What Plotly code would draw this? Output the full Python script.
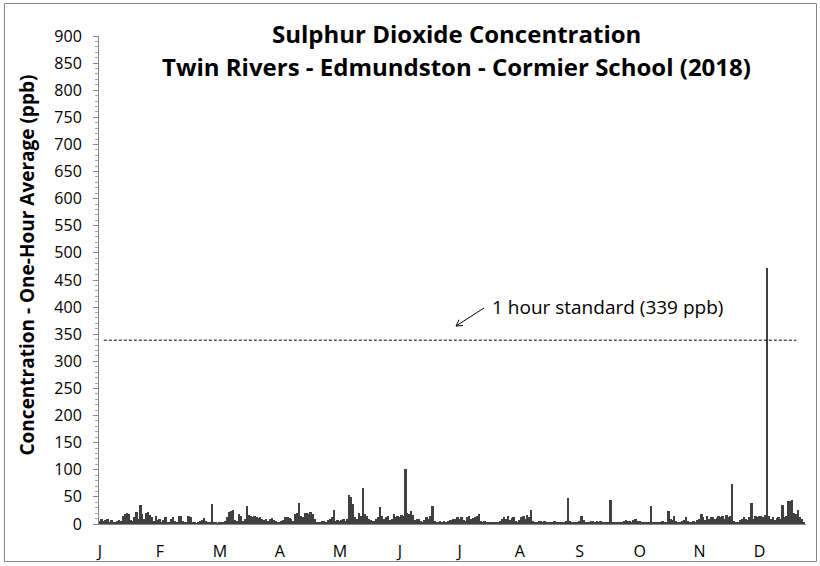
import plotly.graph_objects as go

# Daily peak one-hour SO2 concentration (ppb)
jan = [6, 9, 5, 8, 10, 4, 7, 3, 2, 5, 8, 6, 15, 18, 20, 19, 8, 6, 12, 22, 10, 35, 18, 9, 20, 23, 16, 12, 5, 14, 8]
feb = [10, 4, 7, 12, 3, 2, 9, 13, 5, 3, 15, 14, 6, 2, 3, 15, 13, 4, 2, 1, 3, 5, 8, 11, 6, 2, 3, 37, 4, 2, 1]
mar = [2, 3, 4, 5, 12, 22, 24, 26, 8, 5, 18, 14, 6, 10, 33, 17, 14, 12, 15, 13, 11, 12, 9, 8, 10, 6, 9, 11, 7, 5, 3]
apr = [4, 6, 8, 12, 13, 11, 9, 6, 18, 20, 38, 14, 12, 20, 21, 19, 22, 18, 10, 4, 3, 2, 5, 6, 3, 8, 10, 12, 25, 6, 8]
may = [5, 8, 10, 6, 9, 54, 50, 36, 12, 10, 20, 14, 67, 18, 15, 10, 8, 5, 6, 9, 12, 32, 14, 10, 12, 15, 8, 10, 18, 12, 15]
jun = [12, 16, 14, 101, 20, 18, 24, 16, 8, 10, 9, 5, 3, 8, 12, 10, 14, 34, 6, 3, 4, 5, 4, 6, 3, 5, 7, 8, 10, 9, 12]
jul = [10, 12, 8, 6, 13, 14, 9, 11, 13, 14, 18, 6, 4, 5, 3, 2, 3, 2, 4, 3, 2, 5, 10, 12, 9, 14, 8, 11, 13, 6, 4]
aug = [8, 12, 14, 10, 16, 12, 26, 6, 4, 3, 5, 6, 4, 5, 3, 4, 2, 3, 5, 3, 4, 2, 3, 4, 5, 48, 6, 3, 4, 2, 3]
sep = [5, 14, 8, 3, 2, 4, 5, 6, 4, 5, 3, 6, 4, 2, 3, 2, 45, 3, 2, 4, 3, 2, 3, 5, 7, 6, 5, 4, 8, 10, 6]
oct_ = [5, 4, 3, 2, 3, 4, 34, 3, 2, 4, 3, 2, 5, 3, 4, 24, 10, 8, 15, 6, 4, 3, 5, 8, 13, 6, 4, 3, 5, 2, 8]
nov = [10, 18, 12, 8, 14, 10, 13, 12, 9, 11, 14, 12, 15, 10, 16, 12, 15, 74, 6, 4, 3, 8, 10, 12, 10, 8, 12, 39, 10, 14, 12]
dec = [15, 14, 12, 16, 472, 14, 10, 12, 8, 11, 13, 10, 35, 12, 14, 42, 43, 44, 20, 18, 25, 12, 10, 3]

so2_values = jan + feb + mar + apr + may + jun + jul + aug + sep + oct_ + nov + dec
day_index = list(range(len(so2_values)))

month_labels = ["J", "F", "M", "A", "M", "J", "J", "A", "S", "O", "N", "D"]
month_tick_days = [31 * i for i in range(len(month_labels))]

STANDARD = 339
y_ticks = list(range(0, 901, 50))

FONT = "Open Sans"
TXT = "#000000"

# layout geometry (pixels)
W, H = 820, 566
ML, MR, MT, MB = 99, 14, 36, 42
PW, PH = W - ML - MR, H - MT - MB


def px(x):
    return (x - ML) / PW


def py(y):
    return (H - MB - y) / PH


fig = go.Figure()
fig.add_trace(go.Bar(
    x=day_index, y=so2_values, width=1.0,
    marker=dict(color="#404040", line=dict(width=0)),
    hoverinfo="x+y", showlegend=False,
))

fig.add_shape(type="line", xref="x", yref="y", x0=2, x1=360, y0=STANDARD, y1=STANDARD,
              line=dict(color="#000000", width=1, dash="3px,2px"))

# outer chart border (four edges)
bx0, bx1, by0, by1 = 4.5, 816.5, 3.5, 561.5
for (xa, ya, xb, yb) in [(bx0, by0, bx1, by0), (bx1, by0, bx1, by1),
                         (bx1, by1, bx0, by1), (bx0, by1, bx0, by0)]:
    fig.add_shape(type="line", xref="paper", yref="paper",
                  x0=px(xa), y0=py(ya), x1=px(xb), y1=py(yb),
                  line=dict(color="#868686", width=1), layer="above")

fig.add_annotation(x=px(456), y=py(33.5), xref="paper", yref="paper",
                   text="<b>Sulphur Dioxide Concentration</b>", showarrow=False,
                   font=dict(family=FONT, size=24, color=TXT), xanchor="center", yanchor="middle")
fig.add_annotation(x=px(456), y=py(66.5), xref="paper", yref="paper",
                   text="<b>Twin Rivers - Edmundston - Cormier School (2018)</b>", showarrow=False,
                   font=dict(family=FONT, size=24, color=TXT), xanchor="center", yanchor="middle")
fig.add_annotation(x=px(26), y=py(265.5), xref="paper", yref="paper",
                   text="<b>Concentration - One-Hour Average (ppb)</b>", showarrow=False, textangle=-90,
                   font=dict(family=FONT, size=19, color=TXT), xanchor="center", yanchor="middle")

# standard label with open arrow
fig.add_annotation(x=px(490), y=py(306.7), xref="paper", yref="paper",
                   text="1 hour standard (339 ppb)", showarrow=False,
                   font=dict(family=FONT, size=19, color=TXT), xanchor="left", yanchor="middle")
for (xa, ya, xb, yb) in [(484, 308, 456, 326), (456, 326, 463, 325.5), (456, 326, 459, 319.7)]:
    fig.add_shape(type="line", xref="paper", yref="paper",
                  x0=px(xa), y0=py(ya), x1=px(xb), y1=py(yb),
                  line=dict(color="#000000", width=1))

fig.update_layout(
    width=W, height=H, autosize=False,
    margin=dict(l=ML, r=MR, t=MT, b=MB),
    paper_bgcolor="white", plot_bgcolor="white",
    bargap=0,
    font=dict(family=FONT, color=TXT),
    xaxis=dict(range=[-0.5, 365], tickvals=month_tick_days, ticktext=month_labels,
               showgrid=False, zeroline=False, showline=True, linecolor="#868686", linewidth=1,
               ticks="outside", ticklen=13, tickcolor="rgba(0,0,0,0)", automargin=False,
               tickfont=dict(family=FONT, size=16, color=TXT)),
    yaxis=dict(range=[0, 900], tickvals=y_ticks, automargin=False,
               showgrid=False, zeroline=False, showline=True, linecolor="#868686", linewidth=1,
               ticks="outside", ticklen=5, tickcolor="#868686", ticklabelstandoff=8,
               minor=dict(ticks="outside", dtick=10, ticklen=3, tickcolor="#a6a6a6"),
               tickfont=dict(family=FONT, size=16, color=TXT)),
)

fig.write_html("out.html", config={"displayModeBar": False},
               post_script="document.body.style.margin='0px';document.body.style.overflow='hidden';")
